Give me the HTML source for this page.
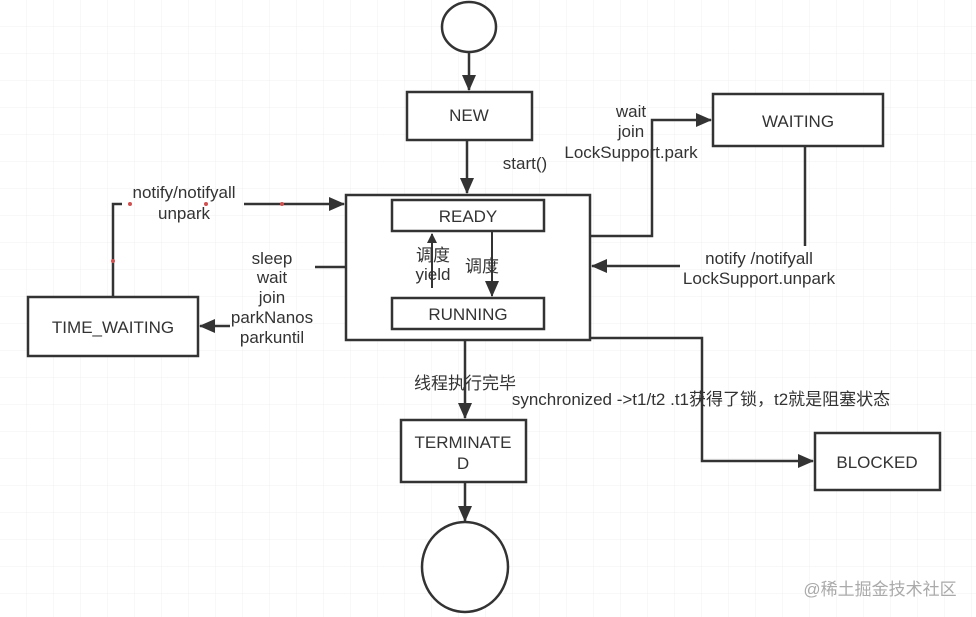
<!DOCTYPE html>
<html><head><meta charset="utf-8"><style>
html,body{margin:0;padding:0;background:#fff}
svg{display:block}
text{font-family:"Liberation Sans","Noto Sans CJK SC",sans-serif;font-size:17px;fill:#333}
</style></head><body>
<svg width="976" height="617" viewBox="0 0 976 617" xmlns="http://www.w3.org/2000/svg">
<defs>
<pattern id="g" width="27" height="27" patternUnits="userSpaceOnUse"><path d="M27 0V27M0 27H27" stroke="#f0f0f0" stroke-width="1" fill="none"/></pattern>
<marker id="a" markerWidth="10" markerHeight="10" refX="9" refY="5" orient="auto" markerUnits="userSpaceOnUse" viewBox="0 0 10 10"><path d="M0,0 L10,5 L0,10 z" fill="#333"/></marker>
<marker id="b" markerWidth="16" markerHeight="14" refX="15" refY="7" orient="auto" markerUnits="userSpaceOnUse" viewBox="0 0 16 14"><path d="M0,0 L16,7 L0,14 z" fill="#333"/></marker>
</defs>
<rect width="976" height="617" fill="url(#g)"/>
<g stroke="#333" stroke-width="2.5" fill="#fff">
<ellipse cx="469" cy="27" rx="27" ry="25"/>
<rect x="407" y="92" width="125" height="48"/>
<rect x="346" y="195" width="244" height="145"/>
<rect x="392" y="200" width="152" height="31"/>
<rect x="392" y="298" width="152" height="31"/>
<rect x="713" y="94" width="170" height="52"/>
<rect x="28" y="297" width="170" height="59"/>
<rect x="401" y="420" width="125" height="62"/>
<rect x="815" y="433" width="125" height="57"/>
<ellipse cx="465" cy="567" rx="43" ry="45"/>
</g>
<g stroke="#333" stroke-width="2.5" fill="none">
<path d="M469 52V90" marker-end="url(#b)"/>
<path d="M467 140V193" marker-end="url(#b)"/>
<path d="M432 288V234" stroke-width="2" marker-end="url(#a)"/>
<path d="M492 231V296" stroke-width="2" marker-end="url(#b)"/>
<path d="M590 236H652V120H711" marker-end="url(#b)"/>
<path d="M805 146V246"/>
<path d="M680 266H592" marker-end="url(#b)"/>
<path d="M346 267H315"/>
<path d="M230 326H200" marker-end="url(#b)"/>
<path d="M113 297V204H122M244 204H344" marker-end="url(#b)"/>
<path d="M465 340V418" marker-end="url(#b)"/>
<path d="M465 482V521" marker-end="url(#b)"/>
<path d="M590 338H702V461H813" marker-end="url(#b)"/>
</g>
<g fill="#d05050"><circle cx="130" cy="204" r="2"/><circle cx="206" cy="204" r="2"/><circle cx="282" cy="204" r="2"/><circle cx="113" cy="261" r="2"/></g>
<g text-anchor="middle">
<text x="469" y="121">NEW</text>
<text x="525" y="169">start()</text>
<text x="468" y="222">READY</text>
<text x="468" y="320">RUNNING</text>
<text x="433" y="261">调度</text>
<text x="433" y="280">yield</text>
<text x="482" y="272">调度</text>
<text x="798" y="127">WAITING</text>
<text x="631" y="117">wait</text>
<text x="631" y="137">join</text>
<text x="631" y="158">LockSupport.park</text>
<text x="759" y="264">notify /notifyall</text>
<text x="759" y="284">LockSupport.unpark</text>
<text x="113" y="333">TIME_WAITING</text>
<text x="272" y="264">sleep</text>
<text x="272" y="283">wait</text>
<text x="272" y="303">join</text>
<text x="272" y="323">parkNanos</text>
<text x="272" y="343">parkuntil</text>
<text x="184" y="198">notify/notifyall</text>
<text x="184" y="219">unpark</text>
<text x="465" y="389">线程执行完毕</text>
<text x="701" y="405">synchronized -&gt;t1/t2 .t1获得了锁，t2就是阻塞状态</text>
<text x="463" y="448">TERMINATE</text>
<text x="463" y="469">D</text>
<text x="877" y="468">BLOCKED</text>
<text x="880" y="595" style="fill:#aaa">@稀土掘金技术社区</text>
</g>
</svg>
</body></html>
